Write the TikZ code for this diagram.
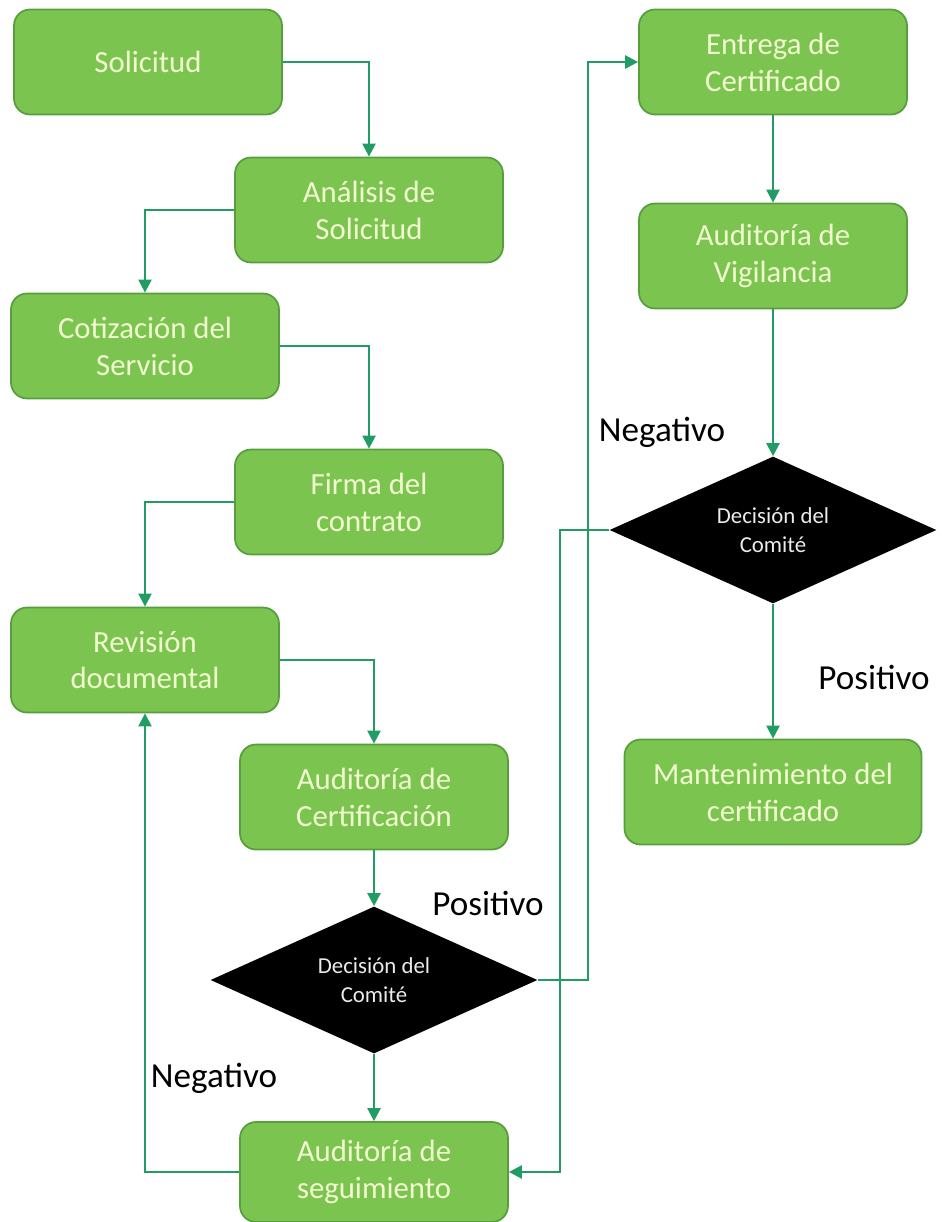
\documentclass[tikz,border=0pt]{standalone}
\usepackage{fontspec}
\setmainfont{Carlito}
\usetikzlibrary{shapes.geometric,arrows.meta}

\definecolor{boxgreen}{RGB}{124,196,80}
\definecolor{edgegreen}{RGB}{86,158,62}
\definecolor{linegreen}{RGB}{32,156,100}
\definecolor{boxtext}{RGB}{242,250,208}

\tikzset{
  stage/.style={draw=edgegreen, line width=1pt, fill=boxgreen, rounded corners=0.32cm,
    minimum width=5.36cm, minimum height=2.1cm, align=center, text=boxtext,
    font=\fontsize{17.5}{21}\selectfont},
  decision/.style={diamond, fill=black, aspect=2.2, inner sep=0pt,
    minimum width=6.54cm, minimum height=2.94cm, align=center, text=black!8,
    font=\fontsize{13}{16.5}\selectfont},
  flow/.style={draw=linegreen, line width=1.3pt, -{Triangle[length=0.26cm,width=0.26cm]}},
  answer/.style={font=\fontsize{20}{24}\selectfont}
}

\begin{document}
\begin{tikzpicture}[x=0.02cm, y=-0.02cm]
  \useasboundingbox (0,0) rectangle (941,1222);

  % left column
  \node[stage] (sol) at (148,62) {Solicitud};
  \node[stage] (ana) at (369,210) {Análisis de\\Solicitud};
  \node[stage] (cot) at (145,346) {Cotización del\\Servicio};
  \node[stage] (fir) at (369,502) {Firma del\\contrato};
  \node[stage] (rev) at (145,660) {Revisión\\documental};
  \node[stage] (aca) at (374,797) {Auditoría de\\Certificación};
  \node[decision] (dec1) at (374,980) {Decisión del\\Comité};
  \node[stage, minimum height=2cm] (aseg) at (374,1172) {Auditoría de\\seguimiento};

  % right column
  \node[stage] (ent) at (773,62) {Entrega de\\Certificado};
  \node[stage] (vig) at (773,256) {Auditoría de\\Vigilancia};
  \node[decision] (dec2) at (773,530) {Decisión del\\Comité};
  \node[stage, minimum width=5.94cm] (man) at (773,792) {Mantenimiento del\\certificado};

  % answers
  \node[answer] (negtop) at (662,432) {Negativo};
  \node[answer] (posright) at (874,677) {Positivo};
  \node[answer] (posmid) at (488,903) {Positivo};
  \node[answer] (negbot) at (214,1078) {Negativo};

  \coordinate (upturn) at (588,980);
  \coordinate (downturn) at (560,530);
  \coordinate (backturn) at (145,1172);

  \draw[flow] (sol.east) -| (ana.north);
  \draw[flow] (ana.west) -| (cot.north);
  \draw[flow] (cot.east) -| (fir.north);
  \draw[flow] (fir.west) -| (rev.north);
  \draw[flow] (rev.east) -| (aca.north);
  \draw[flow] (aca.south) -- (dec1.north);
  \draw[flow] (dec1.south) -- (aseg.north);
  \draw[flow] (dec1.east) -- (upturn) |- (ent.west);
  \draw[flow] (ent.south) -- (vig.north);
  \draw[flow] (vig.south) -- (dec2.north);
  \draw[flow] (dec2.south) -- (man.north);
  \draw[flow] (dec2.west) -- (downturn) |- (aseg.east);
  \draw[flow] (aseg.west) -- (backturn) -- (rev.south);
\end{tikzpicture}
\end{document}
